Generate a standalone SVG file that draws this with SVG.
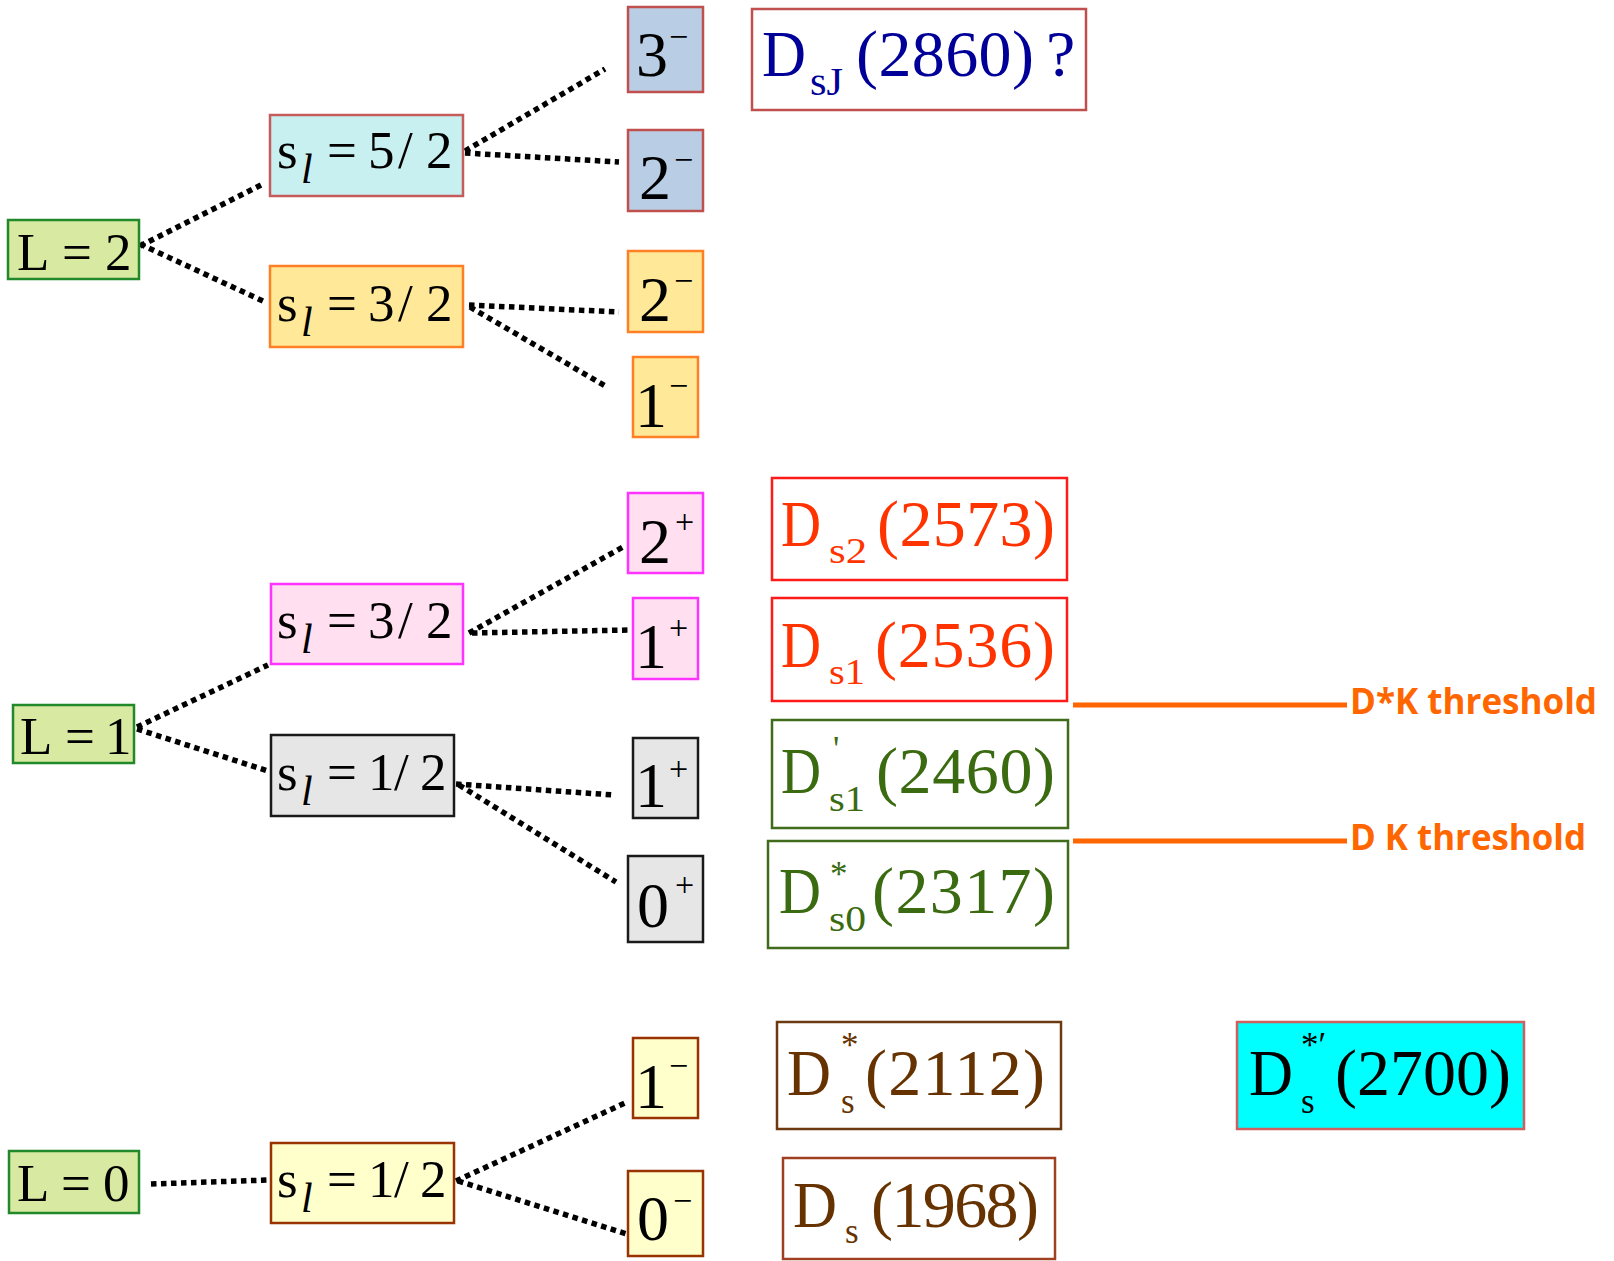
<svg xmlns="http://www.w3.org/2000/svg" width="1614" height="1261" viewBox="0 0 1614 1261">
  <style>
    .serif { font-family: "Liberation Serif", "Times New Roman", serif; }
    .box { stroke-width: 2.5; }
    .big { font-size: 64px; }
    .sup { font-size: 34px; }
    .lab { font-size: 53px; }
    .sub { font-size: 42px; font-style: italic; }
    .name { font-size: 66px; }
    .nsub { font-size: 35px; }
    .dot { stroke: #000; stroke-width: 5.5; stroke-dasharray: 5.5 4.5; fill: none; }
    .thr { stroke: #ff6600; stroke-width: 5; }
    .thrtxt { font-family: "Open Sans", "Liberation Sans", sans-serif; font-weight: 700; font-size: 35px; fill: #ff6600; }
    .Lbox { fill: #d8e9a2; stroke: #22892b; }
    .cyan { fill: #c9f0f0; stroke: #c55b5b; }
    .blue { fill: #b9cde5; stroke: #c0504d; }
    .orng { fill: #ffe999; stroke: #ff7f27; }
    .pink { fill: #ffdff0; stroke: #ff33ff; }
    .gray { fill: #e6e6e6; stroke: #1a1a1a; }
    .yell { fill: #ffffcc; stroke: #993300; }
  </style>

  <rect width="1614" height="1261" fill="#fff"/>

  <!-- dotted branching lines -->
  <g id="connectors">
    <line class="dot" x1="140" y1="246" x2="261" y2="185"/>
    <line class="dot" x1="140" y1="244" x2="265" y2="302"/>
    <line class="dot" x1="465" y1="151" x2="605" y2="69"/>
    <line class="dot" x1="465" y1="153" x2="619" y2="162"/>
    <line class="dot" x1="469" y1="305" x2="619" y2="312"/>
    <line class="dot" x1="470" y1="307" x2="607" y2="387"/>
    <line class="dot" x1="137" y1="727" x2="268" y2="665"/>
    <line class="dot" x1="137" y1="729" x2="268" y2="771"/>
    <line class="dot" x1="469" y1="633" x2="623" y2="547"/>
    <line class="dot" x1="472" y1="633" x2="629" y2="630"/>
    <line class="dot" x1="456" y1="784" x2="614" y2="795"/>
    <line class="dot" x1="459" y1="785" x2="616" y2="882"/>
    <line class="dot" x1="151" y1="1184" x2="268" y2="1180"/>
    <line class="dot" x1="456" y1="1181" x2="627" y2="1102"/>
    <line class="dot" x1="458" y1="1181" x2="627" y2="1234"/>
  </g>

  <!-- orbital angular momentum -->
  <g id="L2">
    <rect class="box Lbox" x="8" y="220" width="131" height="59"/>
    <text class="serif lab" y="270"><tspan x="17">L</tspan><tspan x="62">=</tspan><tspan x="105">2</tspan></text>
  </g>
  <g id="L1">
    <rect class="box Lbox" x="13" y="705" width="121" height="58"/>
    <text class="serif lab" y="754"><tspan x="20">L</tspan><tspan x="65">=</tspan><tspan x="105">1</tspan></text>
  </g>
  <g id="L0">
    <rect class="box Lbox" x="9" y="1151" width="130" height="62"/>
    <text class="serif lab" y="1201"><tspan x="17">L</tspan><tspan x="61">=</tspan><tspan x="103">0</tspan></text>
  </g>

  <!-- light-quark spin -->
  <g id="sl52">
    <rect class="box cyan" x="270" y="115" width="193" height="81"/>
    <text class="serif lab" y="168"><tspan x="277">s</tspan><tspan x="327">=</tspan><tspan x="368">5</tspan><tspan x="398">/</tspan><tspan x="426">2</tspan></text>
    <text class="serif sub" x="301" y="183">l</text>
  </g>
  <g id="sl32a">
    <rect class="box orng" x="270" y="266" width="193" height="81"/>
    <text class="serif lab" y="321"><tspan x="277">s</tspan><tspan x="327">=</tspan><tspan x="368">3</tspan><tspan x="398">/</tspan><tspan x="426">2</tspan></text>
    <text class="serif sub" x="301" y="336">l</text>
  </g>
  <g id="sl32b">
    <rect class="box pink" x="271" y="584" width="192" height="80"/>
    <text class="serif lab" y="638"><tspan x="277">s</tspan><tspan x="327">=</tspan><tspan x="368">3</tspan><tspan x="398">/</tspan><tspan x="426">2</tspan></text>
    <text class="serif sub" x="301" y="653">l</text>
  </g>
  <g id="sl12a">
    <rect class="box gray" x="271" y="735" width="183" height="81"/>
    <text class="serif lab" y="790"><tspan x="277">s</tspan><tspan x="327">=</tspan><tspan x="368">1</tspan><tspan x="394">/</tspan><tspan x="420">2</tspan></text>
    <text class="serif sub" x="301" y="805">l</text>
  </g>
  <g id="sl12b">
    <rect class="box yell" x="271" y="1143" width="183" height="80"/>
    <text class="serif lab" y="1197"><tspan x="277">s</tspan><tspan x="327">=</tspan><tspan x="368">1</tspan><tspan x="394">/</tspan><tspan x="420">2</tspan></text>
    <text class="serif sub" x="301" y="1212">l</text>
  </g>

  <!-- J^P states -->
  <g id="jp3m">
    <rect class="box blue" x="628" y="7" width="75" height="85"/>
    <text class="serif big" x="636" y="76">3</text>
    <text class="serif sup" x="669" y="48">−</text>
  </g>
  <g id="jp2m-a">
    <rect class="box blue" x="628" y="130" width="75" height="81"/>
    <text class="serif big" x="639" y="199">2</text>
    <text class="serif sup" x="674" y="171">−</text>
  </g>
  <g id="jp2m-b">
    <rect class="box orng" x="628" y="251" width="75" height="81"/>
    <text class="serif big" x="639" y="321">2</text>
    <text class="serif sup" x="674" y="292">−</text>
  </g>
  <g id="jp1m-a">
    <rect class="box orng" x="633" y="357" width="65" height="80"/>
    <text class="serif big" x="635" y="427">1</text>
    <text class="serif sup" x="669" y="397">−</text>
  </g>
  <g id="jp2p">
    <rect class="box pink" x="628" y="493" width="75" height="80"/>
    <text class="serif big" x="639" y="563">2</text>
    <text class="serif sup" x="675" y="533">+</text>
  </g>
  <g id="jp1p-a">
    <rect class="box pink" x="633" y="598" width="65" height="81"/>
    <text class="serif big" x="635" y="668">1</text>
    <text class="serif sup" x="669" y="639">+</text>
  </g>
  <g id="jp1p-b">
    <rect class="box gray" x="633" y="738" width="65" height="80"/>
    <text class="serif big" x="635" y="807">1</text>
    <text class="serif sup" x="669" y="780">+</text>
  </g>
  <g id="jp0p">
    <rect class="box gray" x="628" y="856" width="75" height="86"/>
    <text class="serif big" x="637" y="927">0</text>
    <text class="serif sup" x="675" y="896">+</text>
  </g>
  <g id="jp1m-b">
    <rect class="box yell" x="633" y="1038" width="65" height="80"/>
    <text class="serif big" x="635" y="1108">1</text>
    <text class="serif sup" x="669" y="1077">−</text>
  </g>
  <g id="jp0m">
    <rect class="box yell" x="628" y="1171" width="75" height="85"/>
    <text class="serif big" x="637" y="1240">0</text>
    <text class="serif sup" x="673" y="1212">−</text>
  </g>

  <!-- observed mesons -->
  <g id="DsJ2860" fill="#000099">
    <rect class="box" x="752" y="9" width="334" height="101" fill="#fff" stroke="#c0504d"/>
    <text class="serif name" x="762" y="76" textLength="44" lengthAdjust="spacingAndGlyphs">D</text>
    <text class="serif" font-size="40" x="810" y="95" textLength="33" lengthAdjust="spacingAndGlyphs">sJ</text>
    <text class="serif name" x="856" y="76" textLength="178">(2860)</text>
    <text class="serif name" x="1046" y="76">?</text>
  </g>
  <g id="Ds2573" fill="#ff3300">
    <rect class="box" x="772" y="478" width="295" height="102" fill="#fff" stroke="#ff1a1a"/>
    <text class="serif name" x="781" y="546" textLength="40" lengthAdjust="spacingAndGlyphs">D</text>
    <text class="serif nsub" x="829" y="563" textLength="38" lengthAdjust="spacingAndGlyphs">s2</text>
    <text class="serif name" x="877" y="546" textLength="178">(2573)</text>
  </g>
  <g id="Ds2536" fill="#ff3300">
    <rect class="box" x="772" y="598" width="295" height="103" fill="#fff" stroke="#ff1a1a"/>
    <text class="serif name" x="781" y="667" textLength="40" lengthAdjust="spacingAndGlyphs">D</text>
    <text class="serif nsub" x="829" y="684" textLength="36" lengthAdjust="spacingAndGlyphs">s1</text>
    <text class="serif name" x="875" y="667" textLength="180">(2536)</text>
  </g>
  <g id="Ds2460" fill="#3b6b11">
    <rect class="box" x="772" y="720" width="296" height="108" fill="#fff" stroke="#3f6b1a"/>
    <text class="serif name" x="781" y="793" textLength="40" lengthAdjust="spacingAndGlyphs">D</text>
    <text class="serif nsub" x="833" y="761">'</text>
    <text class="serif nsub" x="829" y="811" textLength="36" lengthAdjust="spacingAndGlyphs">s1</text>
    <text class="serif name" x="876" y="793" textLength="179">(2460)</text>
  </g>
  <g id="Ds2317" fill="#3b6b11">
    <rect class="box" x="768" y="841" width="300" height="107" fill="#fff" stroke="#3f6b1a"/>
    <text class="serif name" x="779" y="913" textLength="42" lengthAdjust="spacingAndGlyphs">D</text>
    <text class="serif nsub" x="830" y="886">*</text>
    <text class="serif nsub" x="829" y="931" textLength="37" lengthAdjust="spacingAndGlyphs">s0</text>
    <text class="serif name" x="872" y="913" textLength="183">(2317)</text>
  </g>
  <g id="Ds2112" fill="#663300">
    <rect class="box" x="777" y="1022" width="284" height="107" fill="#fff" stroke="#6b3a10"/>
    <text class="serif name" x="787" y="1095" textLength="44" lengthAdjust="spacingAndGlyphs">D</text>
    <text class="serif nsub" x="841" y="1057">*</text>
    <text class="serif nsub" x="841" y="1113">s</text>
    <text class="serif name" x="865" y="1095" textLength="180">(2112)</text>
  </g>
  <g id="Ds1968" fill="#663300">
    <rect class="box" x="783" y="1158" width="272" height="101" fill="#fff" stroke="#a04020"/>
    <text class="serif name" x="793" y="1227" textLength="44" lengthAdjust="spacingAndGlyphs">D</text>
    <text class="serif nsub" x="845" y="1243">s</text>
    <text class="serif name" x="871" y="1227" textLength="168">(1968)</text>
  </g>
  <g id="Ds2700" fill="#000">
    <rect class="box" x="1237" y="1022" width="287" height="107" fill="#00ffff" stroke="#d06060"/>
    <text class="serif name" x="1249" y="1095" textLength="44" lengthAdjust="spacingAndGlyphs">D</text>
    <text class="serif nsub" x="1301" y="1057">*′</text>
    <text class="serif nsub" x="1301" y="1113">s</text>
    <text class="serif name" x="1335" y="1095" textLength="176">(2700)</text>
  </g>

  <!-- decay thresholds -->
  <g id="thresholds">
    <line class="thr" x1="1073" y1="705" x2="1347" y2="705"/>
    <text class="thrtxt" x="1350" y="714" textLength="247" lengthAdjust="spacingAndGlyphs">D*K threshold</text>
    <line class="thr" x1="1073" y1="841" x2="1347" y2="841"/>
    <text class="thrtxt" x="1350" y="850" textLength="236" lengthAdjust="spacingAndGlyphs">D K threshold</text>
  </g>
</svg>
